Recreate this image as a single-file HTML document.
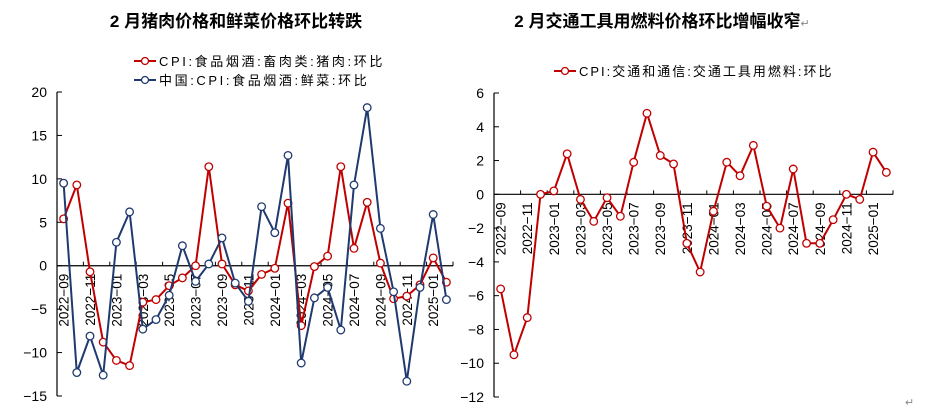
<!DOCTYPE html>
<html><head><meta charset="utf-8">
<style>
html,body{margin:0;padding:0;background:#fff;}
body{width:951px;height:412px;overflow:hidden;font-family:"Liberation Sans","Noto Sans CJK SC",sans-serif;}
svg text{font-family:"Liberation Sans","Noto Sans CJK SC",sans-serif;}
</style></head>
<body>
<svg id="c" width="951" height="412">
<text x="236" y="27" text-anchor="middle" font-size="17" font-weight="bold" fill="#000">2 月猪肉价格和鲜菜价格环比转跌</text>
<text x="662" y="27" text-anchor="middle" font-size="17" font-weight="bold" fill="#000">2 月交通工具用燃料价格环比增幅收窄<tspan font-size="11" font-weight="normal" fill="#888">↵</tspan></text>
<g>
<g>
<line x1="134" y1="61" x2="156" y2="61" stroke="#c00000" stroke-width="2"/><circle cx="145" cy="61" r="3.5" fill="#fff" stroke="#c00000" stroke-width="1.3"/>
<text x="159" y="66" font-size="13" letter-spacing="2.6" fill="#000">CPI:食品烟酒:畜肉类:猪肉:环比</text></g>
<g>
<line x1="134" y1="80" x2="156" y2="80" stroke="#1f3a6e" stroke-width="2"/><circle cx="145" cy="80" r="3.5" fill="#fff" stroke="#1f3a6e" stroke-width="1.3"/>
<text x="159" y="85" font-size="13" letter-spacing="2.6" fill="#000">中国:CPI:食品烟酒:鲜菜:环比</text></g>
</g>
<g>
<g>
<line x1="554" y1="71" x2="576" y2="71" stroke="#c00000" stroke-width="2"/><circle cx="565" cy="71" r="3.5" fill="#fff" stroke="#c00000" stroke-width="1.3"/>
<text x="579" y="76" font-size="13" letter-spacing="2" fill="#000">CPI:交通和通信:交通工具用燃料:环比</text></g>
</g>
<text x="905" y="406" font-size="11" fill="#888">↵</text>
</svg>
<script>
const categories = ["2022-09","2022-10","2022-11","2022-12","2023-01","2023-02","2023-03","2023-04","2023-05","2023-06","2023-07","2023-08","2023-09","2023-10","2023-11","2023-12","2024-01","2024-02","2024-03","2024-04","2024-05","2024-06","2024-07","2024-08","2024-09","2024-10","2024-11","2024-12","2025-01","2025-02"];
const porkValues = [5.4,9.3,-0.7,-8.8,-10.9,-11.5,-4.2,-3.9,-2.3,-1.4,0,11.4,0.2,-2.2,-2.9,-1.0,-0.3,7.2,-6.9,-0.1,1.1,11.4,2.0,7.3,0.3,-3.8,-3.5,-2.2,0.9,-1.9];
const vegValues = [9.5,-12.3,-8.1,-12.6,2.7,6.2,-7.3,-6.2,-3.4,2.3,-1.8,0.2,3.2,-2.0,-4.1,6.8,3.8,12.7,-11.2,-3.7,-2.5,-7.4,9.3,18.2,4.3,-3.0,-13.3,-2.5,5.9,-3.9];
const fuelValues = [-5.6,-9.5,-7.3,0,0.2,2.4,-0.3,-1.6,-0.2,-1.3,1.9,4.8,2.3,1.8,-2.9,-4.6,-1.0,1.9,1.1,2.9,-0.7,-2.0,1.5,-2.9,-2.9,-1.5,0,-0.3,2.5,1.3];
const leftTicks = [20,15,10,5,0,-5,-10,-15];
const rightTicks = [6,4,2,0,-2,-4,-6,-8,-10,-12];

const NS = "http://www.w3.org/2000/svg";
const svg = document.getElementById('c');
function mk(tag, attrs, parent){const e=document.createElementNS(NS,tag);for(const k in attrs)e.setAttribute(k,attrs[k]);(parent||svg).appendChild(e);return e;}

function drawChart(cfg){
  const g = mk('g',{});
  
  
  const n = categories.length;
  const step = (cfg.x1 - cfg.x0)/n;
  const xs = i => cfg.x0 + step*(i+0.5);
  const ys = v => cfg.yTop + (cfg.max - v)/(cfg.max - cfg.min)*(cfg.yBot - cfg.yTop);
  const ya = mk('line',{x1:cfg.x0,y1:cfg.yTop,x2:cfg.x0,y2:cfg.yBot,stroke:'#000','stroke-width':1.2},g);
  
  
  cfg.ticks.forEach(t=>{
    const y = ys(t);
    mk('line',{x1:cfg.x0,y1:y,x2:cfg.x0+5,y2:y,stroke:'#000','stroke-width':1},g);
    const tx = mk('text',{x:cfg.x0-10,y:y+5,'text-anchor':'end','font-size':14,fill:'#000'},g);
    tx.textContent = t<0 ? '\u2212'+Math.abs(t) : String(t);
    
    
  });
  const y0 = ys(0);
  const xa = mk('line',{x1:cfg.x0,y1:y0,x2:cfg.x1,y2:y0,stroke:'#000','stroke-width':1.2},g);
  
  
  for(let i=0;i<=n;i+=2){
    const x = cfg.x0+step*i;
    mk('line',{x1:x,y1:y0,x2:x,y2:y0-4,stroke:'#000','stroke-width':1},g);
  }
  mk('line',{x1:cfg.x1,y1:y0,x2:cfg.x1,y2:y0-4,stroke:'#000','stroke-width':1},g);
  categories.forEach((c,i)=>{
    if(i%2) return;
    const x = xs(i)+5, y = y0+8;
    const tx = mk('text',{x:x,y:y,'text-anchor':'end','font-size':13.5,fill:'#000',transform:`rotate(-90 ${x} ${y})`},g);
    tx.textContent = c.replace('-','\u2212');
    
    
  });
  cfg.series.forEach(s=>{
    const sg = mk('g',{},g);
    
    
    const pts = s.values.map((v,i)=>xs(i).toFixed(1)+','+ys(v).toFixed(1)).join(' ');
    mk('polyline',{points:pts,fill:'none',stroke:s.color,'stroke-width':2,'stroke-linejoin':'round'},sg);
    s.values.forEach((v,i)=>{
      const p = mk('circle',{cx:xs(i),cy:ys(v),r:3.8,fill:'#fff',stroke:s.color,'stroke-width':1.3},sg);
      
      
    });
  });
}

drawChart({name:'left-chart',x0:57,x1:453,yTop:92,yBot:396,max:20,min:-15,ticks:leftTicks,
  series:[{name:'pork-series',values:porkValues,color:'#c00000'},{name:'vegetable-series',values:vegValues,color:'#1f3a6e'}]});
drawChart({name:'right-chart',x0:494,x1:893,yTop:93,yBot:397,max:6,min:-12,ticks:rightTicks,
  series:[{name:'fuel-series',values:fuelValues,color:'#c00000'}]});
</script>
</body></html>
